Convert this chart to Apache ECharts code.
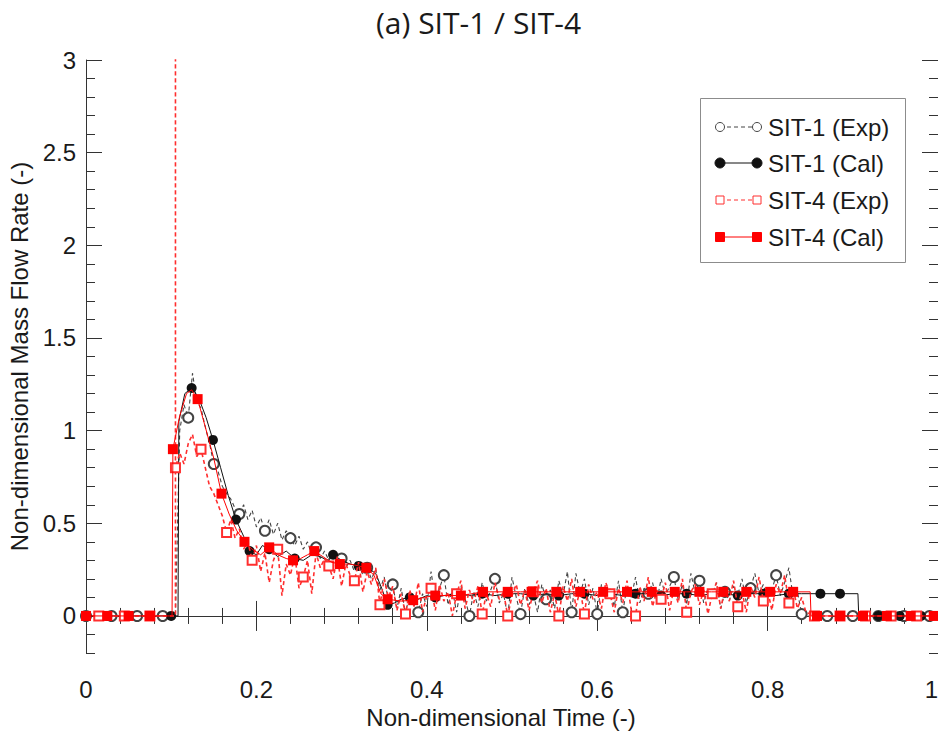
<!DOCTYPE html>
<html>
<head>
<meta charset="utf-8">
<script src="https://cdn.jsdelivr.net/npm/echarts@6/dist/echarts.min.js"></script>
<style>
  html, body { margin: 0; padding: 0; background: #ffffff; }
  #chart { width: 938px; height: 734px; }
</style>
</head>
<body>
<div id="chart"></div>
<script>
// ---- Text ----
const chartTitle = '(a) SIT-1 / SIT-4';
const xAxisName = 'Non-dimensional Time (-)';
const yAxisName = 'Non-dimensional Mass Flow Rate (-)';
const seriesNames = ['SIT-1 (Exp)', 'SIT-1 (Cal)', 'SIT-4 (Exp)', 'SIT-4 (Cal)'];

// ---- Axis ticks ----
const xTicks = [0, 0.2, 0.4, 0.6, 0.8, 1];
const yTicks = [0, 0.5, 1, 1.5, 2, 2.5, 3];

// ---- Measured traces (sampled every 0.005 of non-dimensional time) ----
// An entry written as a list holds successive readings taken at the same instant.
const expStart = 0;
const expStep = 0.005;

const sit1Exp = [
  0, 0, 0, 0, 0, 0, 0, 0, 0, 0,
  0, 0, 0, 0, 0, 0, 0, 0, 0, 0,
  0, 0, 1.00, 1.14, 1.07, 1.31, 1.16, 1.12, 1.02, 0.93,
  0.82, 0.78, 0.70, 0.66, 0.63, 0.58, 0.55, 0.60, 0.52, 0.57,
  0.48, 0.53, 0.46, 0.52, 0.44, 0.50, 0.41, 0.46, 0.42, 0.38,
  0.43, 0.36, 0.40, 0.33, 0.37, 0.31, 0.35, 0.30, 0.33, 0.28,
  0.31, 0.26, 0.30, 0.24, 0.28, 0.22, 0.26, 0.20, 0.25, 0.14,
  0.21, 0.08, 0.17, 0.04, 0.15, 0.01, 0.13, 0.06, 0.02, 0.12,
  0.05, 0.24, 0.08, 0.15, 0.22, 0.06, 0.14, 0.02, 0.16, 0.09,
  0.00, 0.13, 0.05, 0.18, 0.08, 0.14, 0.20, 0.07, 0.12, 0.00,
  0.21, 0.10, 0.01, 0.15, 0.06, 0.12, 0.02, 0.17, 0.09, 0.14,
  0.04, 0.19, 0.11, 0.24, 0.02, 0.23, 0.12, 0.20, 0.06, 0.15,
  0.01, 0.17, 0.09, 0.14, 0.05, 0.19, 0.02, 0.16, 0.10, 0.21,
  0.07, 0.15, 0.12, 0.18, 0.08, 0.20, 0.11, 0.16, 0.21, 0.09,
  0.17, 0.06, 0.23, 0.12, 0.19, 0.07, 0.15, 0.10, 0.18, 0.04,
  0.13, 0.08, 0.16, 0.11, 0.20, 0.07, 0.15, 0.23, 0.12, 0.17,
  0.09, 0.14, 0.22, 0.11, 0.18, 0.26, 0.10, 0.13, 0.01, 0.00,
  0, 0, 0, 0, 0, 0, 0, 0, 0, 0,
  0, 0, 0, 0, 0, 0, 0, 0, 0, 0,
  0, 0, 0, 0, 0, 0, 0, 0, 0, 0,
  0
];

const sit4Exp = [
  0, 0, 0, 0, 0, 0, 0, 0, 0, 0,
  0, 0, 0, 0, 0, 0, 0, 0, 0, 0,
  0, [0, 3.4, 0.80], 0.88, 0.82, 0.93, 0.98, 0.86, 0.90, 0.80, 0.70,
  0.66, 0.60, 0.54, 0.45, 0.52, 0.42, 0.47, 0.36, 0.40, 0.30,
  0.38, 0.24, 0.34, 0.18, 0.30, 0.36, 0.11, 0.28, 0.22, 0.33,
  0.15, 0.21, 0.30, 0.12, 0.34, 0.26, 0.31, 0.27, 0.20, 0.32,
  0.16, 0.28, 0.22, 0.19, 0.29, 0.13, 0.24, 0.17, 0.26, 0.06,
  0.20, 0.10, 0.16, 0.03, 0.12, 0.01, 0.14, 0.05, 0.18, 0.02,
  0.11, 0.15, 0.03, 0.17, 0.08, 0.13, 0.00, 0.12, 0.19, 0.04,
  0.14, 0.07, 0.16, 0.01, 0.12, 0.05, 0.18, 0.09, 0.13, 0.00,
  0.11, 0.17, 0.06, 0.14, 0.03, 0.13, 0.19, 0.07, 0.15, 0.02,
  0.12, 0.00, 0.16, 0.08, 0.20, 0.05, 0.14, 0.01, 0.17, 0.09,
  0.13, 0.04, 0.18, 0.12, 0.02, 0.15, 0.07, 0.19, 0.03, 0.00,
  0.16, 0.08, 0.21, 0.05, 0.14, 0.09, 0.18, 0.03, 0.15, 0.07,
  0.20, 0.02, 0.13, 0.17, 0.06, 0.14, 0.01, 0.12, 0.18, 0.04,
  0.15, 0.08, 0.19, 0.05, 0.13, 0.02, 0.16, 0.10, 0.21, 0.08,
  0.14, 0.03, 0.17, 0.12, 0.22, 0.07, 0.15, 0.04, 0.10, 0.02,
  0.01, 0, 0, 0, 0, 0, 0, 0, 0, 0,
  0, 0, 0, 0, 0, 0, 0, 0, 0, 0,
  0, 0, 0, 0, 0, 0, 0, 0, 0, 0,
  0
];

// ---- Calculated traces ----
const sit1CalT = [
  0, 0.025, 0.05, 0.075, 0.1, 0.108, 0.109, 0.116, 0.124, 0.132,
  0.141, 0.149, 0.158, 0.167, 0.176, 0.185, 0.192, 0.2, 0.207, 0.215,
  0.225, 0.235, 0.245, 0.255, 0.265, 0.275, 0.283, 0.29, 0.3, 0.31,
  0.32, 0.33, 0.34, 0.347, 0.354, 0.362, 0.37, 0.38, 0.39, 0.4,
  0.41, 0.42, 0.435, 0.45, 0.465, 0.48, 0.495, 0.51, 0.525, 0.54,
  0.555, 0.57, 0.585, 0.6, 0.615, 0.63, 0.645, 0.66, 0.675, 0.69,
  0.705, 0.72, 0.735, 0.75, 0.765, 0.78, 0.795, 0.81, 0.825, 0.84,
  0.862, 0.885, 0.906, 0.907, 0.93, 0.955, 0.98, 1.0
];
const sit1CalV = [
  0, 0, 0, 0, 0, 0, 1.05, 1.20, 1.23, 1.18,
  1.07, 0.95, 0.80, 0.65, 0.52, 0.43, 0.35, 0.33, 0.38, 0.36,
  0.32, 0.35, 0.31, 0.30, 0.33, 0.32, 0.30, 0.33, 0.30, 0.28,
  0.27, 0.26, 0.23, 0.15, 0.06, 0.07, 0.09, 0.10, 0.09, 0.11,
  0.10, 0.11, 0.12, 0.11, 0.12, 0.11, 0.12, 0.12, 0.11, 0.12,
  0.11, 0.12, 0.12, 0.11, 0.12, 0.11, 0.12, 0.12, 0.11, 0.12,
  0.12, 0.11, 0.12, 0.12, 0.11, 0.12, 0.12, 0.11, 0.12, 0.12,
  0.12, 0.12, 0.12, 0, 0, 0, 0, 0
];
const sit1CalDots = [
  0, 0.025, 0.05, 0.075, 0.1, 0.124, 0.149, 0.176, 0.192, 0.215,
  0.245, 0.29, 0.32, 0.354, 0.38, 0.41, 0.435, 0.465, 0.495, 0.525,
  0.555, 0.585, 0.615, 0.645, 0.675, 0.705, 0.735, 0.765, 0.795, 0.825,
  0.862, 0.885, 0.93, 0.955, 0.98
];

const sit4CalT = [
  0, 0.025, 0.05, 0.075, 0.1, 0.101, 0.102, 0.11, 0.118, 0.124,
  0.131, 0.14, 0.15, 0.159, 0.168, 0.177, 0.186, 0.195, 0.205, 0.215,
  0.225, 0.235, 0.243, 0.252, 0.26, 0.268, 0.278, 0.288, 0.298, 0.31,
  0.32, 0.329, 0.338, 0.346, 0.354, 0.37, 0.384, 0.397, 0.41, 0.425,
  0.44, 0.453, 0.466, 0.48, 0.495, 0.51, 0.523, 0.538, 0.552, 0.566,
  0.58, 0.594, 0.607, 0.621, 0.635, 0.65, 0.664, 0.678, 0.691, 0.705,
  0.72, 0.734, 0.748, 0.762, 0.775, 0.79, 0.803, 0.817, 0.83, 0.85,
  0.851, 0.858, 0.885, 0.912, 0.94, 0.968, 0.995, 1.0
];
const sit4CalV = [
  0, 0, 0, 0, 0, 0, 0.90, 1.08, 1.20, 1.22,
  1.17, 1.02, 0.85, 0.66, 0.55, 0.46, 0.40, 0.36, 0.33, 0.37,
  0.33, 0.31, 0.30, 0.31, 0.33, 0.35, 0.32, 0.29, 0.28, 0.28,
  0.27, 0.26, 0.22, 0.12, 0.09, 0.08, 0.085, 0.10, 0.11, 0.11,
  0.11, 0.12, 0.13, 0.13, 0.13, 0.13, 0.13, 0.13, 0.13, 0.13,
  0.13, 0.13, 0.13, 0.13, 0.13, 0.13, 0.13, 0.13, 0.13, 0.13,
  0.13, 0.13, 0.13, 0.13, 0.13, 0.13, 0.13, 0.13, 0.13, 0.13,
  0, 0, 0, 0, 0, 0, 0, 0
];
const sit4CalDots = [
  0, 0.025, 0.05, 0.075, 0.102, 0.131, 0.159, 0.186, 0.215, 0.243,
  0.268, 0.298, 0.329, 0.354, 0.384, 0.41, 0.44, 0.466, 0.495, 0.523,
  0.552, 0.58, 0.607, 0.635, 0.664, 0.691, 0.72, 0.748, 0.775, 0.803,
  0.83, 0.858, 0.885, 0.912, 0.94, 0.968, 0.995
];

// ---- Styling ----
const BLACK = '#111111';
const GREY = '#444444';
const RED = '#ff0000';
const LIGHT_RED = '#ff2e2e';
const AXIS = '#333333';
const TEXT = '#1a1a1a';
const SANS = "'Liberation Sans', Arial, sans-serif";

// Measured data: markers on every 6th sample, starting at the given offset.
function buildExp(values, markOffset) {
  const out = [];
  values.forEach((v, i) => {
    const t = +(expStart + i * expStep).toFixed(4);
    const readings = Array.isArray(v) ? v : [v];
    readings.forEach((r, k) => {
      const marked = k === readings.length - 1 && i % 6 === markOffset;
      out.push(marked ? { value: [t, r] } : { value: [t, r], symbol: 'none' });
    });
  });
  return out;
}

// Calculated data: markers at the listed instants.
function buildCal(ts, vs, dots) {
  return ts.map((t, i) => {
    const marked = dots.some(d => Math.abs(d - t) < 1e-9);
    return marked ? { value: [t, vs[i]] } : { value: [t, vs[i]], symbol: 'none' };
  });
}

const chart = echarts.init(document.getElementById('chart'), null, { renderer: 'svg' });

const axisLine = { show: true, lineStyle: { color: AXIS, width: 1 } };

function yAxis(position, major) {
  const ax = {
    type: 'value', min: -0.2, max: 3, position: position,
    axisLine: major ? axisLine : { show: false },
    splitLine: { show: false },
    axisLabel: { show: false }
  };
  if (major) {
    ax.axisTick = { show: true, inside: true, length: 16, customValues: yTicks, lineStyle: { color: AXIS } };
  } else {
    ax.interval = 0.1;
    ax.axisTick = { show: true, inside: true, length: 9, lineStyle: { color: AXIS } };
  }
  return ax;
}

const leftMajor = yAxis('left', true);
leftMajor.axisLabel = {
  show: true, customValues: yTicks, margin: 10,
  fontFamily: SANS, fontSize: 24, color: TEXT
};
leftMajor.name = yAxisName;
leftMajor.nameLocation = 'middle';
leftMajor.nameGap = 53;
leftMajor.nameTextStyle = { fontFamily: SANS, fontSize: 24, color: TEXT };

function xAxis(position, withLabels) {
  const ax = {
    type: 'value', min: 0, max: 1, interval: 0.2, position: position,
    axisLine: axisLine,
    splitLine: { show: false },
    axisTick: { show: true, inside: true, length: 15, lineStyle: { color: AXIS } },
    minorTick: { show: true, splitNumber: 5, length: 8, lineStyle: { color: AXIS } },
    axisLabel: { show: false }
  };
  if (withLabels) {
    ax.axisLabel = {
      show: true, margin: 24, fontFamily: SANS, fontSize: 24, color: TEXT,
      customValues: xTicks, showMaxLabel: true, hideOverlap: false,
      alignMaxLabel: 'right'
    };
    ax.name = xAxisName;
    ax.nameLocation = 'middle';
    ax.nameGap = 51;
    ax.nameTextStyle = { fontFamily: SANS, fontSize: 24, color: TEXT, padding: [0, 22, 0, 0] };
  }
  return ax;
}

// Hand-drawn legend box: a short line with a marker at each end, then the name.
const legendX = 700, legendY = 98, legendW = 205, legendH = 164;
const legendRowsY = [127, 163, 200, 237];
const legendStyle = [
  { stroke: GREY, dash: [4, 3], shape: 'circle', fill: '#ffffff', r: 4.5 },
  { stroke: BLACK, dash: null, shape: 'circle', fill: BLACK, r: 5 },
  { stroke: LIGHT_RED, dash: [4, 3], shape: 'rect', fill: '#ffffff', r: 4 },
  { stroke: RED, dash: null, shape: 'rect', fill: RED, r: 4.5 }
];
const legendGraphics = [{
  type: 'rect',
  shape: { x: legendX + 0.5, y: legendY + 0.5, width: legendW, height: legendH },
  style: { fill: '#ffffff', stroke: '#8c8c8c', lineWidth: 1 },
  z: 100
}];
seriesNames.forEach((name, k) => {
  const y = legendRowsY[k];
  const st = legendStyle[k];
  const x1 = 720, x2 = 757;
  legendGraphics.push({
    type: 'line', z: 101,
    shape: { x1: x1, y1: y, x2: x2, y2: y },
    style: { stroke: st.stroke, lineWidth: 1, lineDash: st.dash || 'solid' }
  });
  [x1, x2].forEach(cx => {
    if (st.shape === 'circle') {
      legendGraphics.push({
        type: 'circle', z: 102, shape: { cx: cx, cy: y, r: st.r },
        style: { fill: st.fill, stroke: st.stroke, lineWidth: 1 }
      });
    } else {
      legendGraphics.push({
        type: 'rect', z: 102, shape: { x: cx - st.r, y: y - st.r, width: st.r * 2, height: st.r * 2 },
        style: { fill: st.fill, stroke: st.stroke, lineWidth: 1 }
      });
    }
  });
  legendGraphics.push({
    type: 'text', z: 102,
    style: {
      x: 768, y: y, text: name, fill: TEXT,
      font: '24px ' + SANS, verticalAlign: 'middle', align: 'left'
    }
  });
});

const option = {
  animation: false,
  backgroundColor: '#ffffff',
  title: {
    text: chartTitle, left: 371, top: 2,
    textStyle: { fontFamily: "'Open Sans', sans-serif", fontSize: 30, fontWeight: 'normal', color: TEXT }
  },
  grid: { left: 86, right: 0, top: 60, bottom: 81, containLabel: false, outerBoundsMode: 'none' },
  xAxis: [xAxis('bottom', true), xAxis('top', false)],
  yAxis: [leftMajor, yAxis('left', false), yAxis('right', true), yAxis('right', false)],
  graphic: legendGraphics,
  series: [
    {
      name: seriesNames[0], type: 'line', xAxisIndex: 0, yAxisIndex: 0,
      data: buildExp(sit1Exp, 0),
      symbol: 'emptyCircle', symbolSize: 10, showSymbol: true,
      itemStyle: { color: GREY, borderWidth: 1 },
      lineStyle: { color: GREY, width: 1.1, type: [4, 3] },
      emphasis: { disabled: true }, z: 2
    },
    {
      name: seriesNames[1], type: 'line', xAxisIndex: 0, yAxisIndex: 0,
      data: buildCal(sit1CalT, sit1CalV, sit1CalDots),
      symbol: 'circle', symbolSize: 10, showSymbol: true,
      itemStyle: { color: BLACK },
      lineStyle: { color: BLACK, width: 1 },
      emphasis: { disabled: true }, z: 3
    },
    {
      name: seriesNames[2], type: 'line', xAxisIndex: 0, yAxisIndex: 0,
      data: buildExp(sit4Exp, 3),
      symbol: 'emptyRect', symbolSize: 9, showSymbol: true,
      itemStyle: { color: LIGHT_RED, borderWidth: 1 },
      lineStyle: { color: LIGHT_RED, width: 1.6, type: [4, 3] },
      emphasis: { disabled: true }, z: 4
    },
    {
      name: seriesNames[3], type: 'line', xAxisIndex: 0, yAxisIndex: 0,
      data: buildCal(sit4CalT, sit4CalV, sit4CalDots),
      symbol: 'rect', symbolSize: 10, showSymbol: true,
      itemStyle: { color: RED },
      lineStyle: { color: RED, width: 1 },
      emphasis: { disabled: true }, z: 5
    }
  ]
};

chart.setOption(option);
</script>
</body>
</html>
